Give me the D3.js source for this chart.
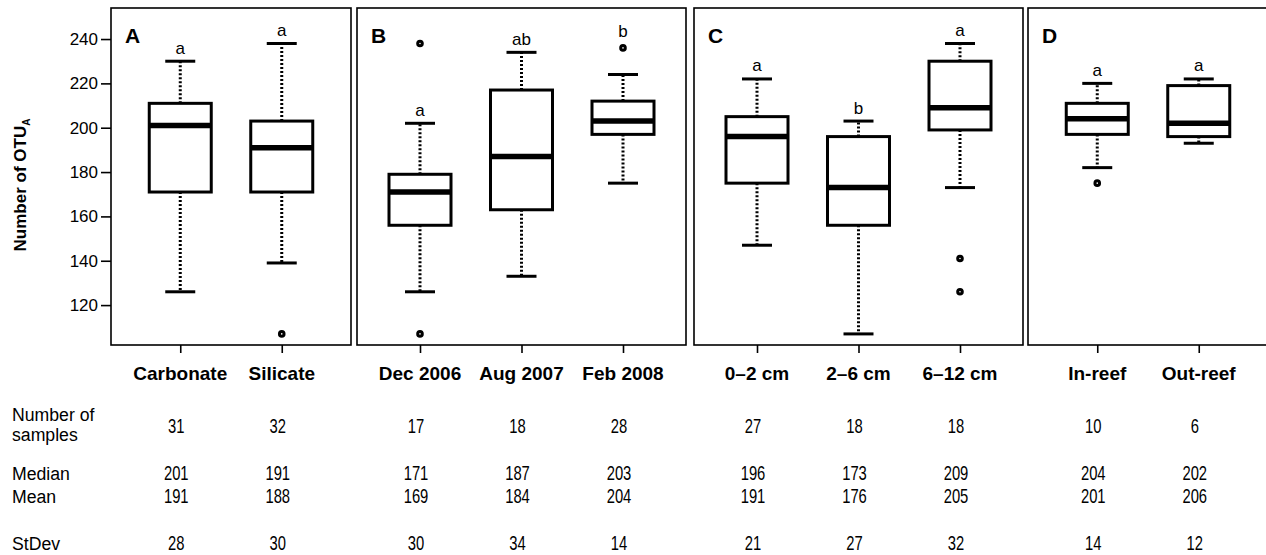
<!DOCTYPE html>
<html>
<head>
<meta charset="utf-8">
<script src="https://cdn.jsdelivr.net/npm/d3@7"></script>
<style>
  body { margin: 0; background: #fff; }
  text { fill: #000; }
</style>
</head>
<body>
<svg width="1266" height="555"></svg>
<script>
// panels and their groups
var panelIds = ["A", "B", "C", "D"];
var categories = [
  ["Carbonate", "Silicate"],
  ["Dec 2006", "Aug 2007", "Feb 2008"],
  ["0\u20132 cm", "2\u20136 cm", "6\u201312 cm"],
  ["In-reef", "Out-reef"]
];

// box plot stats, one entry per group
var whiskerLow  = [126, 139, 126, 133, 175, 147, 107, 173, 182, 193];
var q1          = [171, 171, 156, 163, 197, 175, 156, 199, 197, 196];
var medians     = [201, 191, 171, 187, 203, 196, 173, 209, 204, 202];
var q3          = [211, 203, 179, 217, 212, 205, 196, 230, 211, 219];
var whiskerHigh = [230, 238, 202, 234, 224, 222, 203, 238, 220, 222];
var outliers    = [[], [107], [238, 107], [], [236], [], [], [141, 126], [175], []];
var letters     = ["a", "a", "a", "ab", "b", "a", "b", "a", "a", "a"];

// table under the plot
var nSamples  = [31, 32, 17, 18, 28, 27, 18, 18, 10, 6];
var medianTab = [201, 191, 171, 187, 203, 196, 173, 209, 204, 202];
var meanTab   = [191, 188, 169, 184, 204, 191, 176, 205, 201, 206];
var sdTab     = [28, 30, 30, 34, 14, 21, 27, 32, 14, 12];

var yTicks = [120, 140, 160, 180, 200, 220, 240];

var svg = d3.select("svg");
var font = "'Liberation Sans', Arial, sans-serif";

var plotTop = 8, plotBottom = 345;
var panelX = [[111, 351], [357, 686], [694, 1023], [1028, 1268]];
var step = 101.5, boxW = 62, capW = 30;

var y = d3.scaleLinear().domain([102, 254]).range([plotBottom, plotTop]);

function txt(g, x, yy, s, size, weight, sx, anchor) {
  return g.append("text")
    .attr("transform", "translate(" + x + "," + yy + ") scale(" + sx + ",1)")
    .attr("text-anchor", anchor || "middle")
    .style("font", weight + " " + size + "px " + font)
    .text(s);
}

// y axis title
var title = svg.append("text")
  .attr("transform", "translate(26,185) rotate(-90)")
  .attr("text-anchor", "middle")
  .style("font", "bold 17px " + font)
  .text("Number of OTU");
title.append("tspan").attr("dy", 4).style("font-size", "10px").text("A");

var tbl = svg.append("g");
// row labels
txt(tbl, 12, 421, "Number of", 19, "normal", 0.93, "start");
txt(tbl, 12, 441, "samples", 19, "normal", 0.93, "start");
txt(tbl, 12, 480, "Median", 19, "normal", 0.93, "start");
txt(tbl, 12, 503, "Mean", 19, "normal", 0.93, "start");
txt(tbl, 12, 550, "StDev", 19, "normal", 0.93, "start");

var k = 0;
panelIds.forEach(function(id, p) {
  var x0 = panelX[p][0], x1 = panelX[p][1], cx = (x0 + x1) / 2;
  var cats = categories[p];
  var half = (cats.length - 1) / 2 * step;
  var x = d3.scalePoint().domain(cats).range([cx - half, cx + half]);

  var g = svg.append("g");

  g.append("rect")
    .attr("x", x0).attr("y", plotTop)
    .attr("width", x1 - x0).attr("height", plotBottom - plotTop)
    .attr("fill", "none").attr("stroke", "#000").attr("stroke-width", 1.6);

  var xa = g.append("g")
    .attr("transform", "translate(0," + plotBottom + ")")
    .call(d3.axisBottom(x).tickSize(8).tickFormat(""));
  xa.select(".domain").remove();
  xa.selectAll("line").attr("stroke", "#000").attr("stroke-width", 1.6);

  if (p == 0) {
    var ya = g.append("g")
      .attr("transform", "translate(" + x0 + ",0)")
      .call(d3.axisLeft(y).tickValues(yTicks).tickSize(10).tickPadding(3));
    ya.select(".domain").remove();
    ya.selectAll("line").attr("stroke", "#000").attr("stroke-width", 1.6);
    ya.selectAll("text").attr("fill", "#000").style("font", "17px " + font);
  }

  txt(g, x0 + 14, 43, id, 21, "bold", 1, "start");

  var boxes = cats.map(function(c, j) { return { cat: c, i: k + j }; });
  k += cats.length;

  var b = g.selectAll(".box").data(boxes).enter().append("g").attr("class", "box");

  // whiskers
  b.append("line")
    .attr("x1", function(d) { return x(d.cat); }).attr("x2", function(d) { return x(d.cat); })
    .attr("y1", function(d) { return y(q3[d.i]); }).attr("y2", function(d) { return y(whiskerHigh[d.i]); })
    .attr("stroke", "#000").attr("stroke-width", 3).attr("stroke-dasharray", "2,2");
  b.append("line")
    .attr("x1", function(d) { return x(d.cat); }).attr("x2", function(d) { return x(d.cat); })
    .attr("y1", function(d) { return y(q1[d.i]); }).attr("y2", function(d) { return y(whiskerLow[d.i]); })
    .attr("stroke", "#000").attr("stroke-width", 3).attr("stroke-dasharray", "2,2");
  // caps
  [whiskerHigh, whiskerLow].forEach(function(arr) {
    b.append("line")
      .attr("x1", function(d) { return x(d.cat) - capW / 2; })
      .attr("x2", function(d) { return x(d.cat) + capW / 2; })
      .attr("y1", function(d) { return y(arr[d.i]); })
      .attr("y2", function(d) { return y(arr[d.i]); })
      .attr("stroke", "#000").attr("stroke-width", 3);
  });
  // box
  b.append("rect")
    .attr("x", function(d) { return x(d.cat) - boxW / 2; })
    .attr("y", function(d) { return y(q3[d.i]); })
    .attr("width", boxW)
    .attr("height", function(d) { return y(q1[d.i]) - y(q3[d.i]); })
    .attr("fill", "#fff").attr("stroke", "#000").attr("stroke-width", 3);
  // median
  b.append("line")
    .attr("x1", function(d) { return x(d.cat) - boxW / 2; })
    .attr("x2", function(d) { return x(d.cat) + boxW / 2; })
    .attr("y1", function(d) { return y(medians[d.i]); })
    .attr("y2", function(d) { return y(medians[d.i]); })
    .attr("stroke", "#000").attr("stroke-width", 5.5);
  // outliers
  b.selectAll("circle")
    .data(function(d) { return outliers[d.i].map(function(v) { return { cat: d.cat, v: v }; }); })
    .enter().append("circle")
    .attr("cx", function(d) { return x(d.cat); })
    .attr("cy", function(d) { return y(d.v); })
    .attr("r", 2.3)
    .attr("fill", "#fff").attr("stroke", "#000").attr("stroke-width", 3);
  // significance letters: sit above the cap, or above an outlier close to it
  b.each(function(d) {
    var hi = whiskerHigh[d.i];
    var near = outliers[d.i].filter(function(v) { return v > hi && v - hi < 15; });
    var yy = near.length ? y(d3.max(near)) - 11 : y(hi) - 7.5;
    txt(d3.select(this), x(d.cat), yy, letters[d.i], 17, "normal", 1, "middle");
  });

  // table columns
  boxes.forEach(function(d) {
    var cx2 = x(d.cat);
    txt(tbl, cx2, 380, d.cat, 19, "bold", 1, "middle");
    txt(tbl, cx2 - 4, 433, nSamples[d.i], 20, "normal", 0.74, "middle");
    txt(tbl, cx2 - 4, 480, medianTab[d.i], 20, "normal", 0.74, "middle");
    txt(tbl, cx2 - 4, 503, meanTab[d.i], 20, "normal", 0.74, "middle");
    txt(tbl, cx2 - 4, 550, sdTab[d.i], 20, "normal", 0.74, "middle");
  });
});
</script>
</body>
</html>
